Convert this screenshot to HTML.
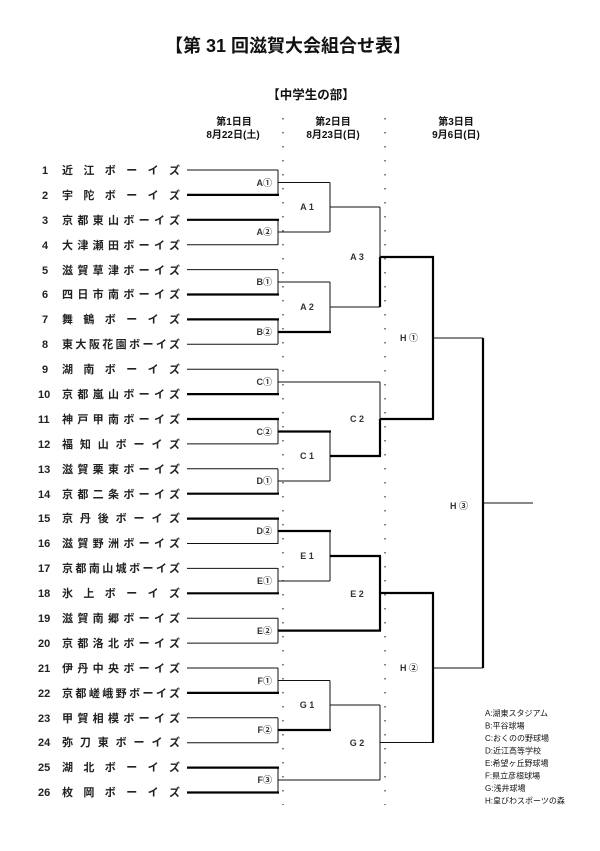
<!DOCTYPE html>
<html><head><meta charset="utf-8"><style>
html,body{margin:0;padding:0;background:#fff;}
svg{display:block;font-family:"Liberation Sans","Noto Sans CJK JP",sans-serif;}
.n{font-size:11px;font-weight:bold;fill:#222;}
.l{font-size:9px;font-weight:bold;fill:#333;}
.t{stroke:#111;stroke-width:1;fill:none;}
.k{stroke:#000;stroke-width:2.2;fill:none;}
</style></head><body>
<svg width="600" height="851" viewBox="0 0 600 851" xmlns="http://www.w3.org/2000/svg">
<text x="288" y="52" text-anchor="middle" font-size="18" font-weight="bold" fill="#111">【第 31 回滋賀大会組合せ表】</text>
<text x="311" y="99" text-anchor="middle" font-size="12.5" font-weight="bold" fill="#111">【中学生の部】</text>
<g font-size="10" font-weight="bold" fill="#111" text-anchor="middle">
<text x="234" y="125">第1日目</text><text x="233" y="138">8月22日(土)</text>
<text x="333" y="125">第2日目</text><text x="333" y="138">8月23日(日)</text>
<text x="456" y="125">第3日目</text><text x="456" y="138">9月6日(日)</text>
</g>
<line x1="283" y1="118" x2="283" y2="805" stroke="#333" stroke-width="1.2" stroke-dasharray="1.5 12.5"/>
<line x1="385" y1="118" x2="385" y2="805" stroke="#333" stroke-width="1.2" stroke-dasharray="1.5 12.5"/>

<g class="n">
<text x="42" y="174">1</text><text x="62" y="174" textLength="118" lengthAdjust="spacing">近 江 ボ ー イ ズ</text>
<text x="42" y="199">2</text><text x="62" y="199" textLength="118" lengthAdjust="spacing">宇 陀 ボ ー イ ズ</text>
<text x="42" y="224">3</text><text x="62" y="224" textLength="118" lengthAdjust="spacing">京都東山ボーイズ</text>
<text x="42" y="249">4</text><text x="62" y="249" textLength="118" lengthAdjust="spacing">大津瀬田ボーイズ</text>
<text x="42" y="274">5</text><text x="62" y="274" textLength="118" lengthAdjust="spacing">滋賀草津ボーイズ</text>
<text x="42" y="298">6</text><text x="62" y="298" textLength="118" lengthAdjust="spacing">四日市南ボーイズ</text>
<text x="42" y="323">7</text><text x="62" y="323" textLength="118" lengthAdjust="spacing">舞 鶴 ボ ー イ ズ</text>
<text x="42" y="348">8</text><text x="62" y="348" textLength="118" lengthAdjust="spacing">東大阪花園ボーイズ</text>
<text x="42" y="373">9</text><text x="62" y="373" textLength="118" lengthAdjust="spacing">湖 南 ボ ー イ ズ</text>
<text x="38" y="398">10</text><text x="62" y="398" textLength="118" lengthAdjust="spacing">京都嵐山ボーイズ</text>
<text x="38" y="423">11</text><text x="62" y="423" textLength="118" lengthAdjust="spacing">神戸甲南ボーイズ</text>
<text x="38" y="448">12</text><text x="62" y="448" textLength="118" lengthAdjust="spacing">福知山ボーイズ</text>
<text x="38" y="473">13</text><text x="62" y="473" textLength="118" lengthAdjust="spacing">滋賀栗東ボーイズ</text>
<text x="38" y="498">14</text><text x="62" y="498" textLength="118" lengthAdjust="spacing">京都二条ボーイズ</text>
<text x="38" y="522">15</text><text x="62" y="522" textLength="118" lengthAdjust="spacing">京丹後ボーイズ</text>
<text x="38" y="547">16</text><text x="62" y="547" textLength="118" lengthAdjust="spacing">滋賀野洲ボーイズ</text>
<text x="38" y="572">17</text><text x="62" y="572" textLength="118" lengthAdjust="spacing">京都南山城ボーイズ</text>
<text x="38" y="597">18</text><text x="62" y="597" textLength="118" lengthAdjust="spacing">氷 上 ボ ー イ ズ</text>
<text x="38" y="622">19</text><text x="62" y="622" textLength="118" lengthAdjust="spacing">滋賀南郷ボーイズ</text>
<text x="38" y="647">20</text><text x="62" y="647" textLength="118" lengthAdjust="spacing">京都洛北ボーイズ</text>
<text x="38" y="672">21</text><text x="62" y="672" textLength="118" lengthAdjust="spacing">伊丹中央ボーイズ</text>
<text x="38" y="697">22</text><text x="62" y="697" textLength="118" lengthAdjust="spacing">京都嵯峨野ボーイズ</text>
<text x="38" y="722">23</text><text x="62" y="722" textLength="118" lengthAdjust="spacing">甲賀相模ボーイズ</text>
<text x="38" y="746">24</text><text x="62" y="746" textLength="118" lengthAdjust="spacing">弥刀東ボーイズ</text>
<text x="38" y="771">25</text><text x="62" y="771" textLength="118" lengthAdjust="spacing">湖 北 ボ ー イ ズ</text>
<text x="38" y="796">26</text><text x="62" y="796" textLength="118" lengthAdjust="spacing">枚 岡 ボ ー イ ズ</text>
</g>

<g class="t">
<line x1="187" y1="170" x2="278" y2="170"/><line x1="187" y1="244.7" x2="278" y2="244.7"/>
<line x1="187" y1="269.6" x2="278" y2="269.6"/><line x1="187" y1="344.3" x2="278" y2="344.3"/>
<line x1="187" y1="369.2" x2="278" y2="369.2"/><line x1="187" y1="443.9" x2="278" y2="443.9"/>
<line x1="187" y1="468.8" x2="278" y2="468.8"/><line x1="187" y1="543.5" x2="278" y2="543.5"/>
<line x1="187" y1="568.4" x2="278" y2="568.4"/><line x1="187" y1="618.2" x2="278" y2="618.2"/>
<line x1="187" y1="643.1" x2="278" y2="643.1"/><line x1="187" y1="668" x2="278" y2="668"/>
<line x1="187" y1="717.8" x2="278" y2="717.8"/><line x1="187" y1="742.7" x2="278" y2="742.7"/>
<line x1="278" y1="170" x2="278" y2="195"/><line x1="278" y1="220" x2="278" y2="245"/>
<line x1="278" y1="270" x2="278" y2="295"/><line x1="278" y1="319" x2="278" y2="344"/>
<line x1="278" y1="369" x2="278" y2="394"/><line x1="278" y1="419" x2="278" y2="444"/>
<line x1="278" y1="469" x2="278" y2="494"/><line x1="278" y1="519" x2="278" y2="544"/>
<line x1="278" y1="568" x2="278" y2="593"/><line x1="278" y1="618" x2="278" y2="643"/>
<line x1="278" y1="668" x2="278" y2="693"/><line x1="278" y1="718" x2="278" y2="743"/>
<line x1="278" y1="768" x2="278" y2="793"/>
<line x1="278" y1="182.5" x2="330" y2="182.5"/><line x1="278" y1="232" x2="330" y2="232"/>
<line x1="278" y1="282" x2="330" y2="282"/>
<line x1="278" y1="382" x2="380" y2="382"/>
<line x1="278" y1="481" x2="330" y2="481"/>
<line x1="278" y1="581" x2="330" y2="581"/>
<line x1="278" y1="680.5" x2="330" y2="680.5"/>
<line x1="278" y1="780" x2="380" y2="780"/>
<line x1="330" y1="182.5" x2="330" y2="232"/><line x1="330" y1="207" x2="380" y2="207"/>
<line x1="330" y1="282" x2="330" y2="332"/><line x1="330" y1="307" x2="380" y2="307"/>
<line x1="330" y1="431.5" x2="330" y2="481"/>
<line x1="330" y1="531" x2="330" y2="581"/>
<line x1="330" y1="680.5" x2="330" y2="730"/><line x1="330" y1="705" x2="380" y2="705"/>
<line x1="380" y1="207" x2="380" y2="257"/>
<line x1="380" y1="382" x2="380" y2="419"/>
<line x1="380" y1="705" x2="380" y2="780"/>
<line x1="380" y1="742.5" x2="433" y2="742.5"/>
<line x1="433" y1="338" x2="483" y2="338"/>
<line x1="433" y1="668" x2="483" y2="668"/>
<line x1="483" y1="503" x2="533" y2="503"/>
</g>
<g class="k">
<line x1="187" y1="194.9" x2="279" y2="194.9"/><line x1="187" y1="219.8" x2="279" y2="219.8"/>
<line x1="187" y1="294.5" x2="279" y2="294.5"/><line x1="187" y1="319.4" x2="279" y2="319.4"/>
<line x1="187" y1="394.1" x2="279" y2="394.1"/><line x1="187" y1="419" x2="279" y2="419"/>
<line x1="187" y1="493.7" x2="279" y2="493.7"/><line x1="187" y1="518.6" x2="279" y2="518.6"/>
<line x1="187" y1="593.3" x2="279" y2="593.3"/><line x1="187" y1="692.9" x2="279" y2="692.9"/>
<line x1="187" y1="767.6" x2="279" y2="767.6"/><line x1="187" y1="792.5" x2="279" y2="792.5"/>
<line x1="278" y1="332" x2="331" y2="332"/>
<line x1="278" y1="431.5" x2="331" y2="431.5"/>
<line x1="278" y1="531" x2="331" y2="531"/>
<line x1="278" y1="630.6" x2="381" y2="630.6"/>
<line x1="278" y1="730" x2="331" y2="730"/>
<line x1="330" y1="456" x2="381" y2="456"/>
<line x1="330" y1="556" x2="381" y2="556"/>
<line x1="380" y1="257" x2="380" y2="307"/>
<line x1="380" y1="419" x2="380" y2="456"/>
<line x1="380" y1="556" x2="380" y2="631"/>
<line x1="380" y1="257" x2="434" y2="257"/>
<line x1="380" y1="419" x2="434" y2="419"/>
<line x1="380" y1="593" x2="434" y2="593"/>
<line x1="433" y1="257" x2="433" y2="419"/>
<line x1="433" y1="593" x2="433" y2="743"/>
<line x1="483" y1="338" x2="483" y2="668"/>
</g>

<g class="l" text-anchor="end">
<text x="272" y="186">A①</text><text x="272" y="235">A②</text>
<text x="272" y="285">B①</text><text x="272" y="335">B②</text>
<text x="272" y="385">C①</text><text x="272" y="435">C②</text>
<text x="272" y="484">D①</text><text x="272" y="534">D②</text>
<text x="272" y="584">E①</text><text x="272" y="634">E②</text>
<text x="272" y="684">F①</text><text x="272" y="733">F②</text>
<text x="272" y="783">F③</text>
</g>
<g class="l" text-anchor="middle">
<text x="307" y="210">A 1</text><text x="307" y="310">A 2</text>
<text x="357" y="260">A 3</text>
<text x="307" y="459">C 1</text><text x="357" y="422">C 2</text>
<text x="307" y="559">E 1</text><text x="357" y="597">E 2</text>
<text x="307" y="708">G 1</text><text x="357" y="746">G 2</text>
<text x="409" y="341">H ①</text><text x="409" y="671">H ②</text>
<text x="459" y="509">H ③</text>
</g>
<g font-size="8" fill="#111">
<text x="485" y="716">A:湖東スタジアム</text>
<text x="485" y="728.5">B:平谷球場</text>
<text x="485" y="741">C:おくのの野球場</text>
<text x="485" y="753.5">D:近江高等学校</text>
<text x="485" y="766">E:希望ヶ丘野球場</text>
<text x="485" y="778.5">F:県立彦根球場</text>
<text x="485" y="791">G:浅井球場</text>
<text x="485" y="803.5">H:皇びわスポーツの森</text>
</g>
</svg>
</body></html>
